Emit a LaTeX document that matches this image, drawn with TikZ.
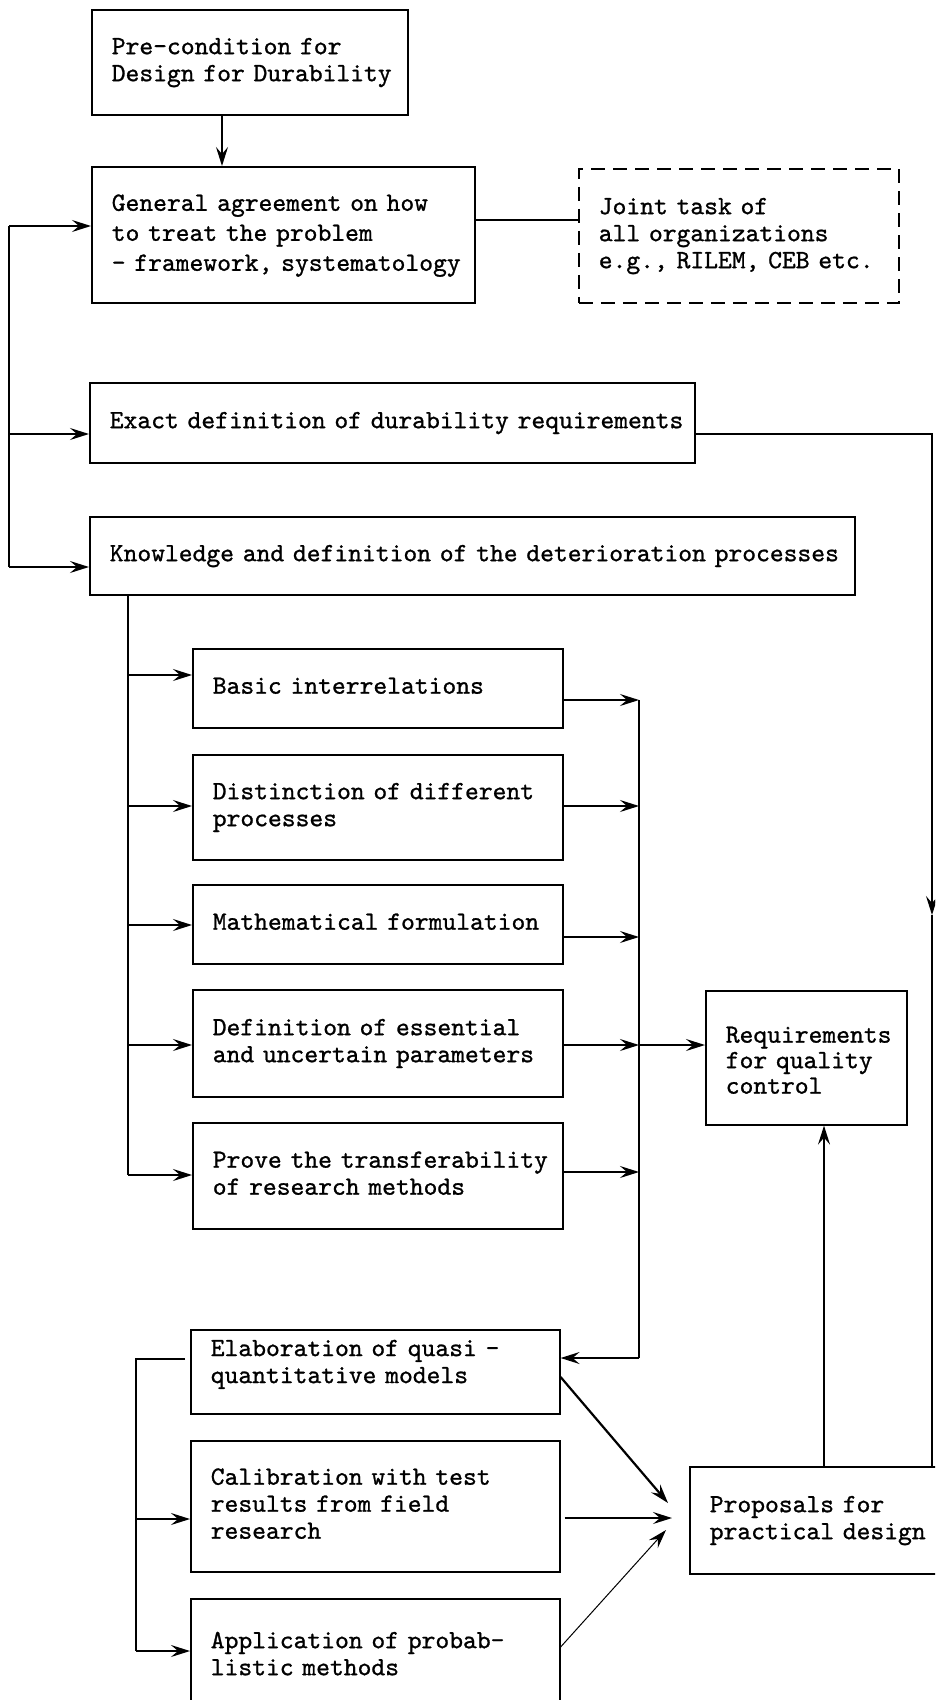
\documentclass[tikz,border=0pt]{standalone}
\usepackage{fontspec}
\usetikzlibrary{arrows.meta}
% typewriter face for all box texts
\newfontfamily\boxfont{lmmono10-regular}[Extension=.otf, FakeBold=1]
% box text: explicit lines that never re-break
\newcommand\lines[1]{\begin{tabular}{@{}l@{}}#1\end{tabular}}
\tikzset{
  blk/.style={draw, line width=1.6pt, anchor=north west, align=left,
    inner xsep=20pt, inner ysep=0pt,
    font=\fontsize{26.3}{27}\selectfont\boxfont},
  dashblk/.style={blk, dash pattern=on 14pt off 8pt},
  conn/.style={line width=1.5pt},
  arr/.style={conn, -{Stealth[length=19pt,width=12pt,inset=7pt]}},
}
\begin{document}
\begin{tikzpicture}[x=1pt,y=-1pt]
\useasboundingbox (0,0) rectangle (935,1700);
\clip (0,0) rectangle (935,1700);

% boxes
\node[blk, text width=276pt, minimum height=105pt] (pre) at (91,9)
  {\lines{Pre-condition for\\Design for Durability}};
\node[blk, text width=343pt, minimum height=136pt,
  font=\fontsize{26.3}{30}\selectfont\boxfont] (gen) at (91,166)
  {\lines{General agreement on how\\to treat the problem\\- framework, systematology}};
\node[dashblk, text width=280pt, minimum height=134pt] (joint) at (578,168)
  {\lines{Joint task of\\all organizations\\e.g., RILEM, CEB etc.}};
\node[blk, text width=565pt, minimum height=80pt] (exact) at (89,382)
  {\lines{Exact definition of durability requirements}};
\node[blk, text width=725pt, minimum height=78pt] (know) at (89,516)
  {\lines{Knowledge and definition of the deterioration processes}};
\node[blk, text width=330pt, minimum height=79pt] (basic) at (192,648)
  {\lines{Basic interrelations}};
\node[blk, text width=330pt, minimum height=105pt] (dist) at (192,754)
  {\lines{Distinction of different\\processes}};
\node[blk, text width=330pt, minimum height=79pt] (math) at (192,884)
  {\lines{Mathematical formulation}};
\node[blk, text width=330pt, minimum height=107pt] (def) at (192,989)
  {\lines{Definition of essential\\and uncertain parameters}};
\node[blk, text width=330pt, minimum height=106pt] (prove) at (192,1122)
  {\lines{Prove the transferability\\of research methods}};
\node[blk, text width=161pt, minimum height=134pt,
  font=\fontsize{26.3}{25.5}\selectfont\boxfont] (req) at (705,990)
  {\rule{0pt}{55pt}\lines{Requirements\\for quality\\control}};
\node[blk, text width=329pt, minimum height=84pt] (elab) at (190,1329)
  {\lines{Elaboration of quasi -\\quantitative models}\rule[-36pt]{0pt}{0pt}};
\node[blk, text width=329pt, minimum height=131pt] (cal) at (190,1440)
  {\lines{Calibration with test\\results from field\\research}};
\node[blk, text width=329pt, minimum height=115pt] (app) at (190,1598)
  {\lines{Application of probab-\\listic methods}};
\node[blk, text width=216pt, minimum height=107pt] (prop) at (689,1466)
  {\lines{Proposals for\\practical design}};

% top of the chain
\draw[arr] (pre.south -| 222,0) -- (gen.north -| 222,0);
\draw[conn] (gen.east |- 0,220) -- (joint.west |- 0,220);

% left distribution line
\coordinate (b1) at (9,226);
\coordinate (b2) at (9,434);
\coordinate (b3) at (9,567);
\draw[conn] (b1) -- (b3);
\draw[arr] (b1) -- (b1 -| gen.west);
\draw[arr] (b2) -- (b2 -| exact.west);
\draw[arr] (b3) -- (b3 -| know.west);

% requirements line down the right side
\coordinate (rc) at (932,434);
\coordinate (rm) at (932,915);
\draw[arr] (exact.east |- rc) -- (rc) -- (rm);
\draw[conn] (rm) -- (rm |- prop.north);

% branches from the deterioration processes
\coordinate (k1) at (128,675);
\coordinate (k2) at (128,806);
\coordinate (k3) at (128,925);
\coordinate (k4) at (128,1045);
\coordinate (k5) at (128,1175);
\draw[conn] (know.south -| k1) -- (k5);
\draw[arr] (k1) -- (k1 -| basic.west);
\draw[arr] (k2) -- (k2 -| dist.west);
\draw[arr] (k3) -- (k3 -| math.west);
\draw[arr] (k4) -- (k4 -| def.west);
\draw[arr] (k5) -- (k5 -| prove.west);

% collecting line
\coordinate (c1) at (639,700);
\coordinate (c2) at (639,806);
\coordinate (c3) at (639,937);
\coordinate (c4) at (639,1045);
\coordinate (c5) at (639,1172);
\coordinate (c6) at (639,1358);
\draw[arr] (basic.east |- c1) -- (c1);
\draw[arr] (dist.east |- c2) -- (c2);
\draw[arr] (math.east |- c3) -- (c3);
\draw[arr] (def.east |- c4) -- (c4);
\draw[arr] (prove.east |- c5) -- (c5);
\draw[conn] (c1) -- (c6);
\draw[arr] (c4) -- (c4 -| req.west);
\draw[arr] (c6) -- (c6 -| elab.east);

% lower left line
\coordinate (l1) at (136,1359);
\coordinate (l2) at (136,1519);
\coordinate (l3) at (136,1651);
\draw[conn] ([xshift=-5pt]elab.west |- l1) -- (l1) -- (l3);
\draw[arr] (l2) -- (l2 -| cal.west);
\draw[arr] (l3) -- (l3 -| app.west);

% into the practical design proposals
\coordinate (t1) at (668,1503);
\coordinate (t2) at (672,1518);
\coordinate (t3) at (666,1530);
\draw[arr, line width=2.2pt] (elab.east |- 0,1377) -- (t1);
\draw[arr] ([xshift=4pt]cal.east |- t2) -- (t2);
\draw[arr, line width=1pt] (app.east |- 0,1647) -- (t3);
\draw[arr] (prop.north -| 824,0) -- (req.south -| 824,0);
\end{tikzpicture}
\end{document}
